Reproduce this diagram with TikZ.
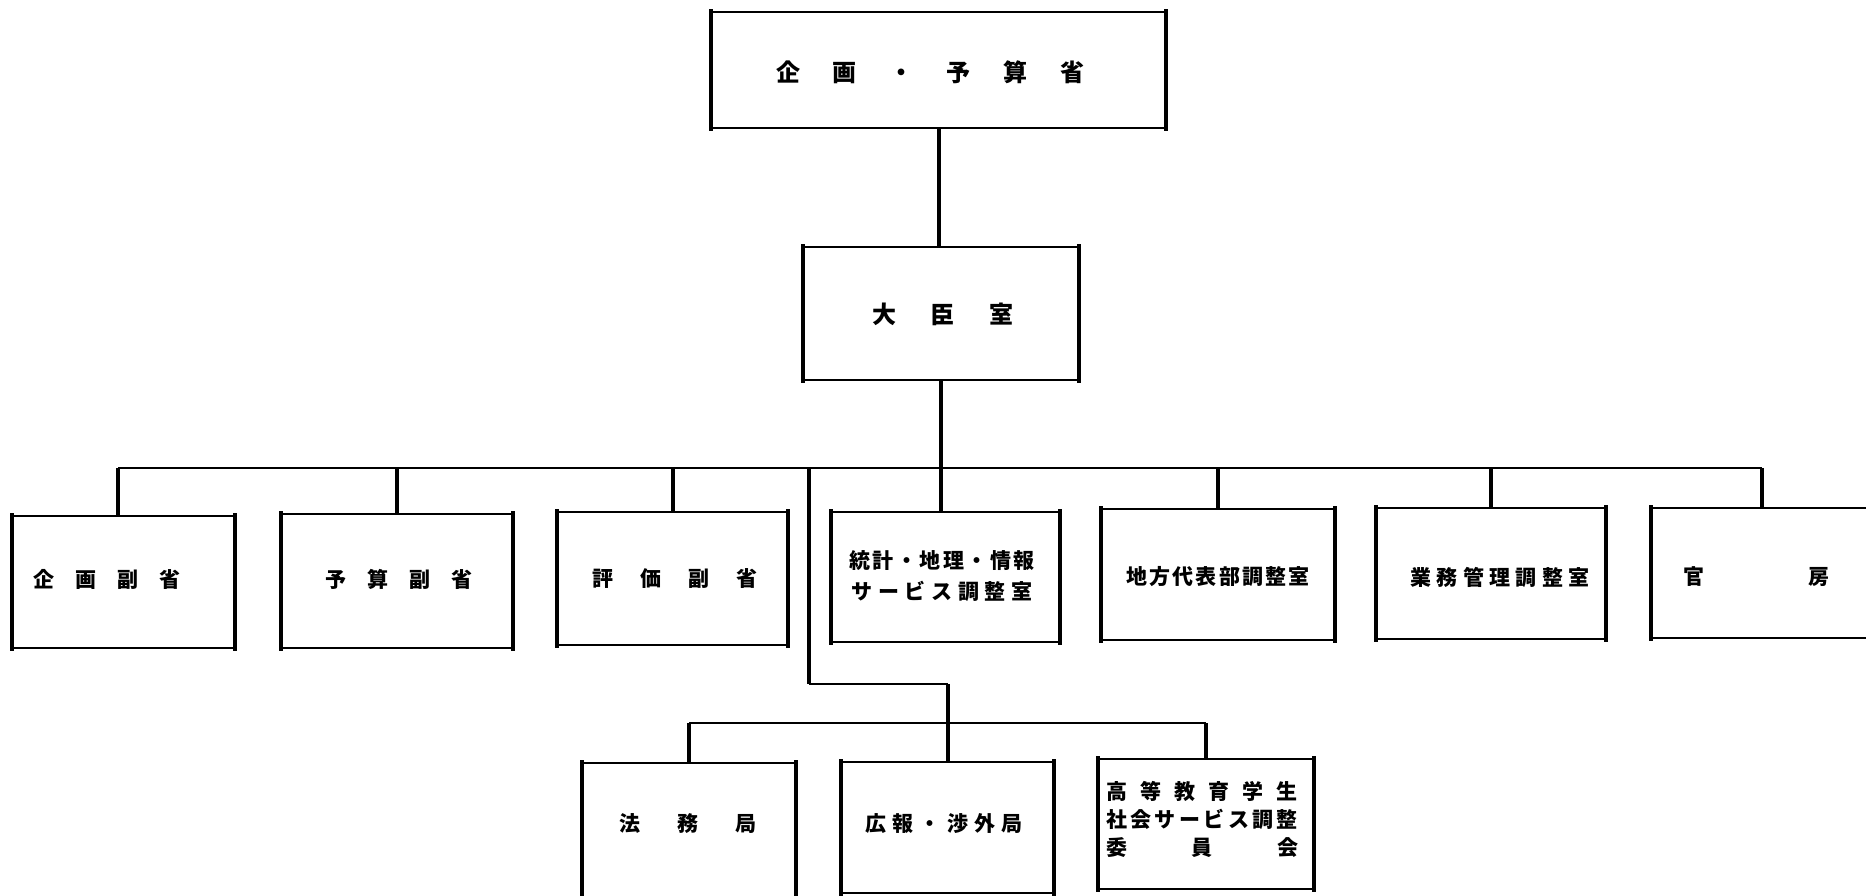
\documentclass[tikz,border=0pt]{standalone}
\usepackage{fontspec}
\newfontfamily\cjk{Noto Sans CJK JP}
\newcommand{\spread}[2]{\makebox[#1][s]{#2}}
\begin{document}
\begin{tikzpicture}[x=1pt,y=-1pt,
  box/.style={draw=black, line width=1.8pt, inner sep=0pt, fill=none},
  side/.style={line width=4pt, line cap=rect},
  hline/.style={line width=2pt},
  vline/.style={line width=4pt},
  big/.style={font=\cjk\bfseries\fontsize{24}{30}\selectfont, inner sep=0pt},
  txt/.style={font=\cjk\bfseries\fontsize{21}{29}\selectfont, inner sep=0pt, align=center}]
\useasboundingbox (0,0) rectangle (1866,895);
\clip (0,0) rectangle (1866,895);
% boxes
\node[box, minimum width=453pt, minimum height=116pt] (top) at (938.5,70) {};
\node[box, minimum width=274pt, minimum height=133pt] (dajin) at (941,313.5) {};
\node[box, minimum width=221pt, minimum height=132pt] (kikaku) at (123.5,582) {};
\node[box, minimum width=230pt, minimum height=134pt] (yosan) at (397,581) {};
\node[box, minimum width=229pt, minimum height=133pt] (hyoka) at (672.5,578.5) {};
\node[box, minimum width=227pt, minimum height=130pt] (tokei) at (945.5,577) {};
\node[box, minimum width=232pt, minimum height=131pt] (chiho) at (1218,574.5) {};
\node[box, minimum width=228pt, minimum height=131pt] (gyomu) at (1491,573.5) {};
\node[box, minimum width=228pt, minimum height=130pt] (kanbo) at (1766,573) {};
\node[box, minimum width=212pt, minimum height=147pt] (homu) at (689,836.5) {};
\node[box, minimum width=211pt, minimum height=131pt] (koho) at (947.5,827.5) {};
\node[box, minimum width=214pt, minimum height=130pt] (koto) at (1206,824) {};
% heavier left and right sides
\foreach \n in {top,dajin,kikaku,yosan,hyoka,tokei,chiho,gyomu,kanbo,homu,koho,koto}{
  \draw[side] (\n.north west) -- (\n.south west);
  \draw[side] (\n.north east) -- (\n.south east);
}
% texts
\node[big] (t-top) at (930,72) {\spread{308pt}{企\hfill 画\hfill ・\hfill 予\hfill 算\hfill 省}};
\node[big] (t-dajin) at (943,314) {\spread{141pt}{大\hfill 臣\hfill 室}};
\node[txt] (t-kikaku) at (107,579) {\spread{148pt}{企\hfill 画\hfill 副\hfill 省}};
\node[txt] (t-yosan) at (399,579) {\spread{148pt}{予\hfill 算\hfill 副\hfill 省}};
\node[txt] (t-hyoka) at (675,579) {\spread{165pt}{評\hfill 価\hfill 副\hfill 省}};
\node[txt, font=\cjk\bfseries\fontsize{21}{31}\selectfont] (t-tokei) at (942,576) {\spread{185pt}{統\hfill 計\hfill ・\hfill 地\hfill 理\hfill ・\hfill 情\hfill 報}\\ \spread{181pt}{サ\hfill ー\hfill ビ\hfill ス\hfill 調\hfill 整\hfill 室}};
\node[txt] (t-chiho) at (1218,577) {\spread{183pt}{地\hfill 方\hfill 代\hfill 表\hfill 部\hfill 調\hfill 整\hfill 室}};
\node[txt] (t-gyomu) at (1500,577) {\spread{179pt}{業\hfill 務\hfill 管\hfill 理\hfill 調\hfill 整\hfill 室}};
\node[txt] (t-kanbo) at (1756,577) {\spread{146pt}{官\hfill 房}};
\node[txt] (t-homu) at (688,824) {\spread{137pt}{法\hfill 務\hfill 局}};
\node[txt] (t-koho) at (944,824) {\spread{158pt}{広\hfill 報\hfill ・\hfill 渉\hfill 外\hfill 局}};
\node[txt, font=\cjk\bfseries\fontsize{21}{28}\selectfont] (t-koto) at (1202,819) {\spread{192pt}{高\hfill 等\hfill 教\hfill 育\hfill 学\hfill 生}\\ \spread{192pt}{社\hfill 会\hfill サ\hfill ー\hfill ビ\hfill ス\hfill 調\hfill 整}\\ \spread{192pt}{委\hfill 員\hfill 会}};
% connector coordinates
\coordinate (busL) at (118,468);
\coordinate (busR) at (1762,468);
\coordinate (j1) at (809,468);
\coordinate (j2) at (809,684);
\coordinate (lb) at (0,723);
% connectors
\draw[vline] (top.south) -- (top.south |- dajin.north);
\draw[vline] (dajin.south) -- (dajin.south |- tokei.north);
\draw[hline] (busL) -- (busR);
\draw[vline] (busL) -- (busL |- kikaku.north);
\foreach \n in {yosan,hyoka,chiho,gyomu}{
  \draw[vline] (\n.north |- busL) -- (\n.north);
}
\draw[vline] (busR) -- (busR |- kanbo.north);
\draw[vline] (j1) -- (j2);
\draw[hline] (j2) -- (j2 -| koho.north);
\draw[vline] (j2 -| koho.north) -- (koho.north);
\draw[hline] (homu.north |- lb) -- (koto.north |- lb);
\draw[vline] (homu.north |- lb) -- (homu.north);
\draw[vline] (koto.north |- lb) -- (koto.north);
\end{tikzpicture}
\end{document}
